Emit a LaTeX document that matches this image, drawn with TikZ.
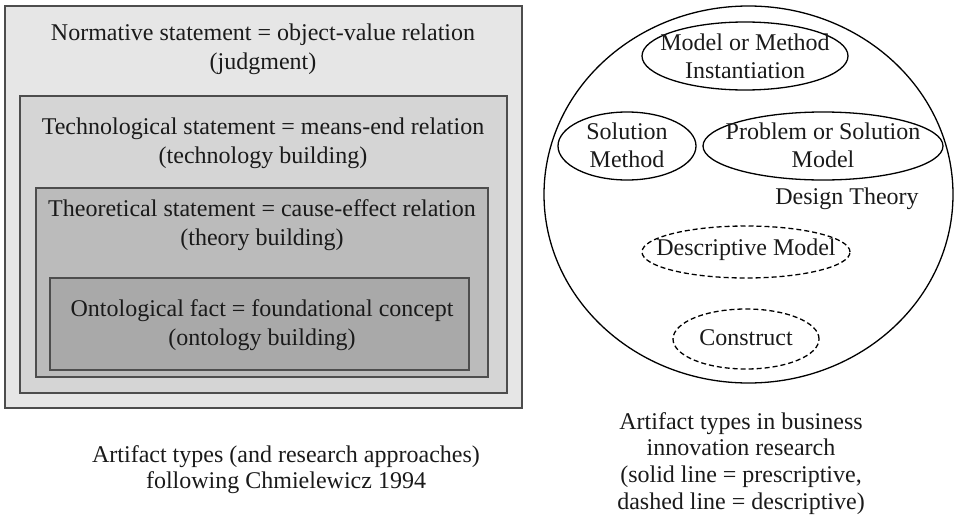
\documentclass[tikz,border=0pt]{standalone}
\usepackage{fontspec}
\setmainfont{Liberation Serif}
\usetikzlibrary{shapes.geometric}

\definecolor{boxline}{HTML}{4D4D4D}
\definecolor{normfill}{HTML}{E6E6E6}
\definecolor{techfill}{HTML}{D5D5D5}
\definecolor{theofill}{HTML}{BBBBBB}
\definecolor{ontofill}{HTML}{A9A9A9}
\definecolor{ink}{HTML}{1A1A1A}

\begin{document}
\begin{tikzpicture}[x=1pt, y=-1pt,
  panel/.style={draw=boxline, line width=1.4pt},
  label/.style={align=center, inner sep=0pt, text=ink,
    font=\fontsize{24}{29}\selectfont},
  caption/.style={align=center, inner sep=0pt, text=ink, anchor=north,
    font=\fontsize{24}{26.7}\selectfont},
  artifact/.style={ellipse, draw, line width=1.3pt, inner sep=0pt},
  descr/.style={artifact, dash pattern=on 5pt off 3pt},
  inlabel/.style={align=center, inner sep=0pt, text=ink,
    font=\fontsize{24}{28}\selectfont}
]
\path[use as bounding box] (0,0) rectangle (958,522);

% nested statement types
\filldraw[panel, fill=normfill] (5,6) rectangle (522,408);
\filldraw[panel, fill=techfill] (20,96) rectangle (507,393);
\filldraw[panel, fill=theofill] (36,188) rectangle (488,377);
\filldraw[panel, fill=ontofill] (50,278) rectangle (469,370);

\node[label] (norm) at (263,49) {Normative statement = object-value relation\\(judgment)};
\node[label] (tech) at (263,143) {Technological statement = means-end relation\\(technology building)};
\node[label] (theo) at (262,225) {Theoretical statement = cause-effect relation\\(theory building)};
\node[label] (onto) at (262,325) {Ontological fact = foundational concept\\(ontology building)};

\node[caption] (capleft) at (286,445) {Artifact types (and research approaches)\\following Chmielewicz 1994};

% artifact types inside the design space
\node[ellipse, draw, line width=1.3pt, minimum width=409pt, minimum height=377pt] (space) at (748.5,194.5) {};

\node[artifact, minimum width=206pt, minimum height=68pt] (inst) at (745,56) {};
\node[inlabel] (inst-text) at (inst.center) {Model or Method\\Instantiation};

\node[artifact, minimum width=138pt, minimum height=68pt] (method) at (627,146) {};
\node[inlabel] (method-text) at ([yshift=1pt]method.center) {Solution\\Method};

\node[artifact, minimum width=240pt, minimum height=68pt] (model) at (823,146) {};
\node[inlabel] (model-text) at ([yshift=1pt]model.center) {Problem or Solution\\Model};

\node[label] (theory) at (847,199) {Design Theory};

\node[descr, minimum width=208pt, minimum height=52pt] (descmodel) at (746,252) {};
\node[inlabel] (descmodel-text) at ([yshift=2pt]descmodel.center) {Descriptive Model};

\node[descr, minimum width=146pt, minimum height=60pt] (construct) at (746,339) {};
\node[inlabel] (construct-text) at ([yshift=1pt]construct.center) {Construct};

\node[caption] (capright) at (741,412) {Artifact types in business\\innovation research\\(solid line = prescriptive,\\dashed line = descriptive)};
\end{tikzpicture}
\end{document}
